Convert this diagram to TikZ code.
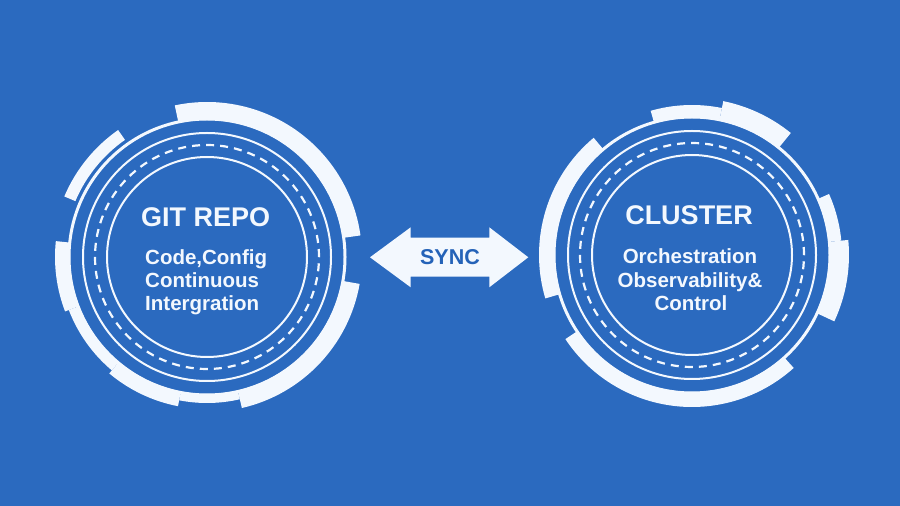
\documentclass[tikz,border=0pt]{standalone}
\usepackage{fontspec}
\setmainfont{Liberation Sans}
\definecolor{bg}{HTML}{2B6ABF}
\definecolor{wht}{HTML}{F3F8FE}
\definecolor{synctext}{HTML}{2563B8}
\newcommand{\bandseg}[5]{\fill[wht,shift={#1}] (#2:#4pt) arc[start angle=#2,end angle=#3,radius=#4pt] -- (#3:#5pt) arc[start angle=#3,end angle=#2,radius=#5pt] -- cycle;}
\begin{document}
\begin{tikzpicture}[x=1pt,y=1pt,
  thinline/.style={draw=wht,line width=2pt},
  dashline/.style={draw=wht,line width=2.2pt,dash pattern=on 8pt off 6.07pt},
  ringline/.style={draw=wht,line width=3pt},
  titletext/.style={text=wht,font=\bfseries\fontsize{27}{30}\selectfont,inner sep=0pt},
  subtext/.style={text=wht,font=\bfseries\fontsize{20.5}{23}\selectfont,inner sep=0pt},
  synclabel/.style={text=synctext,font=\bfseries\fontsize{21.5}{24}\selectfont,inner sep=0pt}]
\fill[bg] (0,0) rectangle (900,506);
\useasboundingbox (0,0) rectangle (900,506);
\coordinate (L) at (207,249);
\coordinate (R) at (692,251);
% left emblem
\draw[thinline] (L) circle[radius=100pt];
\draw[dashline] (L) circle[radius=112pt];
\draw[thinline] (L) circle[radius=124pt];
\draw[ringline] (L) circle[radius=138pt];
\bandseg{(L)}{8}{102}{137}{155}
\bandseg{(L)}{125}{157}{143}{155}
\bandseg{(L)}{174}{201}{137}{152}
\bandseg{(L)}{201}{230}{137}{148}
\bandseg{(L)}{230}{259}{137}{152}
\bandseg{(L)}{259}{283}{137}{146}
\bandseg{(L)}{283}{350}{137}{155}
% right emblem
\draw[thinline] (R) circle[radius=100pt];
\draw[dashline] (R) circle[radius=112pt];
\draw[thinline] (R) circle[radius=124pt];
\draw[ringline] (R) circle[radius=138pt];
\bandseg{(R)}{130}{196.5}{137}{153}
\bandseg{(R)}{213.6}{312}{137}{152}
\bandseg{(R)}{335}{365.5}{137}{157}
\bandseg{(R)}{5.5}{24}{137}{150}
\bandseg{(R)}{51}{78.5}{137}{157}
\bandseg{(R)}{78.5}{106}{137}{150}
% texts
\node[titletext,anchor=base] (gitrepo) at (205.7,279.3) {GIT REPO};
\node[subtext,anchor=base west] (code) at (145,241) {Code,Config};
\node[subtext,anchor=base west] (cont) at (145,218.5) {Continuous};
\node[subtext,anchor=base west] (integ) at (145,195.5) {Intergration};
\node[titletext,anchor=base] (cluster) at (689,281) {CLUSTER};
\node[subtext,anchor=base] (orch) at (690,242) {Orchestration};
\node[subtext,anchor=base] (obs) at (690,218.5) {Observability\&};
\node[subtext,anchor=base] (ctrl) at (691,195.5) {Control};
% sync arrow
\fill[wht] (370,248.7) -- (410.7,278.7) -- (410.7,268.3) -- (489.3,268.3) -- (489.3,278.7) -- (528.3,248.7) -- (489.3,218.7) -- (489.3,229.3) -- (410.7,229.3) -- (410.7,218.7) -- cycle;
\node[synclabel,anchor=base] (sync) at (450,241) {SYNC};
\end{tikzpicture}
\end{document}
